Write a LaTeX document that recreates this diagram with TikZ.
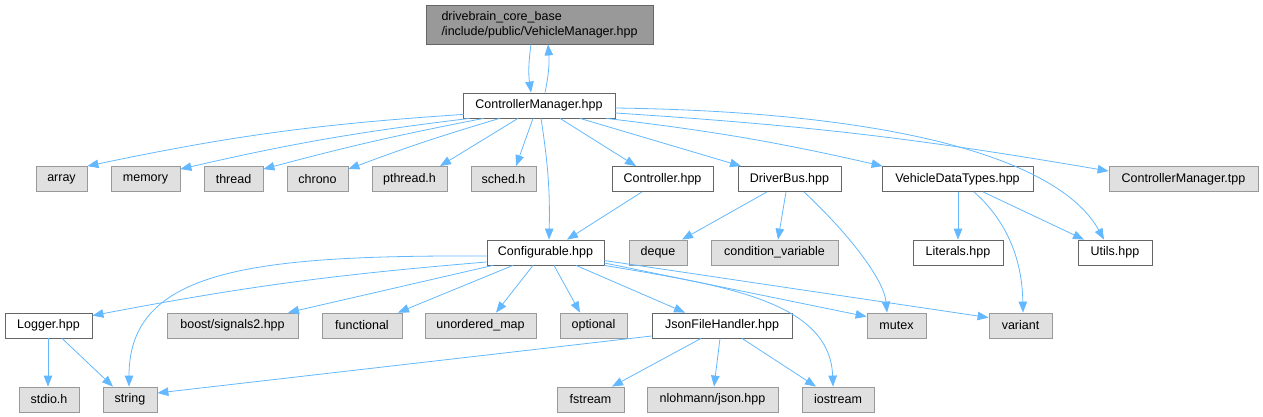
\documentclass[tikz,border=0pt]{standalone}
\usepackage{fontspec}
\setmainfont{Liberation Sans}
\usetikzlibrary{arrows.meta}
\definecolor{edgec}{HTML}{63B8FF}
\definecolor{boxdraw}{HTML}{666666}
\definecolor{sysdraw}{HTML}{999999}
\definecolor{sysfill}{HTML}{E0E0E0}
\definecolor{rootfill}{HTML}{999999}
\begin{document}
\begin{tikzpicture}[x=1pt,y=-1pt,
  box/.style={draw=boxdraw, fill=white, line width=0.8pt, minimum height=25pt, inner sep=0pt, font=\fontsize{12.5}{15}\selectfont},
  sys/.style={box, draw=sysdraw, fill=sysfill},
  rootbox/.style={box, fill=rootfill, align=left},
  wd/.style={minimum width=#1pt},
  dep/.style={draw=edgec, line width=0.8pt, -{Triangle[length=11pt,width=8.5pt]}}]
\useasboundingbox (0,0) rectangle (1263,417);
% row 0
\node[rootbox, wd=227, minimum height=39pt] (vm) at (539.5,24.5) {drivebrain\_core\_base\\/include/public/VehicleManager.hpp};
\node[box, wd=152] (cm) at (539,105.5) {ControllerManager.hpp};
% row 1
\node[sys, wd=51] (array) at (61.5,179) {array};
\node[sys, wd=69] (memory) at (145.5,179) {memory};
\node[sys, wd=59] (thread) at (233.5,179) {thread};
\node[sys, wd=61] (chrono) at (317.5,179) {chrono};
\node[sys, wd=75] (pthread) at (409.5,179) {pthread.h};
\node[sys, wd=65] (sched) at (503.5,179) {sched.h};
\node[box, wd=101] (controller) at (662.5,179) {Controller.hpp};
\node[box, wd=103] (driverbus) at (789.5,179) {DriverBus.hpp};
\node[box, wd=151] (vdt) at (957.5,179) {VehicleDataTypes.hpp};
\node[sys, wd=149] (tpp) at (1183.5,179) {ControllerManager.tpp};
% row 2
\node[box, wd=117] (conf) at (545.5,252.5) {Configurable.hpp};
\node[sys, wd=58] (deque) at (658,252.5) {deque};
\node[sys, wd=127] (condvar) at (774.5,252.5) {condition\_variable};
\node[box, wd=90] (literals) at (958,252.5) {Literals.hpp};
\node[box, wd=74] (utils) at (1115,252.5) {Utils.hpp};
% row 3
\node[box, wd=87] (logger) at (48.5,325.5) {Logger.hpp};
\node[sys, wd=131] (boost) at (232.5,325.5) {boost/signals2.hpp};
\node[sys, wd=80] (functional) at (362,325.5) {functional};
\node[sys, wd=111] (umap) at (480.5,325.5) {unordered\_map};
\node[sys, wd=67] (optional) at (593.5,325.5) {optional};
\node[box, wd=140] (jfh) at (722,325.5) {JsonFileHandler.hpp};
\node[sys, wd=59] (mutex) at (896.5,325.5) {mutex};
\node[sys, wd=63] (variant) at (1020.5,325.5) {variant};
% row 4
\node[sys, wd=60] (stdio) at (49,399.5) {stdio.h};
\node[sys, wd=54] (string) at (130,399.5) {string};
\node[sys, wd=67] (fstream) at (590.5,399.5) {fstream};
\node[sys, wd=131] (nlohmann) at (712.5,399.5) {nlohmann/json.hpp};
\node[sys, wd=72] (iostream) at (838,399.5) {iostream};
% edges
\draw[dep] ([xshift=-8.5pt]vm.south) to[bend right=8] ([xshift=-8pt]cm.north);
\draw[dep] ([xshift=6pt]cm.north) to[bend right=8] ([xshift=8.5pt]vm.south);
\draw[dep] ([xshift=1pt,yshift=4pt]cm.south west) to[bend right=4] (array.north east);
\draw[dep] ([xshift=7pt]cm.south west) to[bend right=3] ([yshift=-3pt]memory.north east);
\draw[dep] ([xshift=21pt]cm.south west) to[bend right=2] ([yshift=-3pt]thread.north east);
\draw[dep] ([xshift=37pt]cm.south west) to[bend right=2] ([yshift=-3pt]chrono.north east);
\draw[dep] ([xshift=-21pt]cm.south) -- ([xshift=30.5pt]pthread.north);
\draw[dep] ([xshift=-6pt]cm.south) -- ([xshift=12.5pt]sched.north);
\draw[dep] ([xshift=2pt]cm.south) to[bend left=5] ([xshift=3.5pt]conf.north);
\draw[dep] ([xshift=21pt]cm.south) -- ([xshift=-26.5pt]controller.north);
\draw[dep] ([xshift=41pt]cm.south) -- ([xshift=-48.5pt]driverbus.north);
\draw[dep] ([xshift=-9pt]cm.south east) to[bend left=3] ([xshift=1pt]vdt.north west);
\draw[dep] ([yshift=-7.5pt]cm.east) to[bend left=3] ([yshift=-5pt]tpp.north west);
\draw[dep] ([yshift=-2.5pt]cm.east) .. controls (900,112) and (1060,160) .. ([xshift=-11pt]utils.north);
\draw[dep] ([xshift=-20.5pt]controller.south) -- ([xshift=21.5pt]conf.north);
\draw[dep] ([xshift=-22.5pt]driverbus.south) -- ([xshift=24pt]deque.north);
\draw[dep] ([xshift=-3.5pt]driverbus.south) -- ([xshift=3.5pt]condvar.north);
\draw[dep] ([xshift=14.5pt]driverbus.south) .. controls (850,235) and (884,280) .. ([xshift=-9.5pt]mutex.north);
\draw[dep] ([xshift=0.5pt]vdt.south) -- (literals.north);
\draw[dep] ([xshift=25.5pt]vdt.south) -- ([xshift=-31pt]utils.north);
\draw[dep] ([xshift=16.5pt]vdt.south) .. controls (1000,215) and (1022,250) .. ([xshift=2.5pt]variant.north);
\draw[dep] ([yshift=-9.5pt]conf.west) to[bend right=3] ([yshift=-3pt]logger.north east);
\draw[dep] ([yshift=-3.5pt]conf.west) .. controls (250,255) and (129,270) .. ([xshift=-1pt]string.north);
\draw[dep] ([xshift=-52.5pt]conf.south) -- ([xshift=55.5pt]boost.north);
\draw[dep] ([xshift=-32.5pt]conf.south) -- ([xshift=36pt]functional.north);
\draw[dep] ([xshift=-12.5pt]conf.south) -- ([xshift=15.5pt]umap.north);
\draw[dep] ([xshift=8.5pt]conf.south) -- ([xshift=-13.5pt]optional.north);
\draw[dep] ([xshift=30.5pt]conf.south) -- ([xshift=-37pt]jfh.north);
\draw[dep] ([yshift=-10.5pt]conf.east) -- ([yshift=-4pt]mutex.north west);
\draw[dep] ([yshift=-8pt]conf.east) -- ([yshift=-5pt]variant.north west);
\draw[dep] (conf.south east) .. controls (720,285) and (830,300) .. ([xshift=-5pt]iostream.north);
\draw[dep] ([xshift=-0.5pt]logger.south) -- ([xshift=-1pt]stdio.north);
\draw[dep] ([xshift=13.5pt]logger.south) -- ([xshift=-17pt]string.north);
\draw[dep] ([yshift=-10.5pt]jfh.west) -- ([yshift=6.5pt]string.east);
\draw[dep] ([xshift=-21pt]jfh.south) -- ([xshift=21.5pt]fstream.north);
\draw[dep] ([xshift=-2pt]jfh.south) -- ([xshift=1.5pt]nlohmann.north);
\draw[dep] ([xshift=20pt]jfh.south) -- ([xshift=-22pt]iostream.north);
\end{tikzpicture}
\end{document}
